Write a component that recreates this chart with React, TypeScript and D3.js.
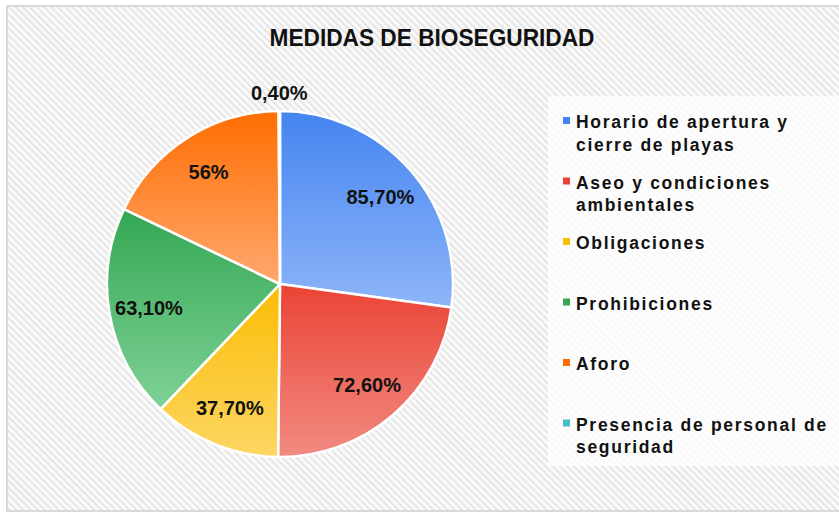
import { useEffect, useRef } from "react";
import * as d3 from "d3";

const categories = [
  "Horario de apertura y cierre de playas",
  "Aseo y condiciones ambientales",
  "Obligaciones",
  "Prohibiciones",
  "Aforo",
  "Presencia de personal de seguridad",
];
const legendLines = [
  ["Horario de apertura y", "cierre de playas"],
  ["Aseo y condiciones", "ambientales"],
  ["Obligaciones"],
  ["Prohibiciones"],
  ["Aforo"],
  ["Presencia de personal de", "seguridad"],
];
const values = [85.7, 72.6, 37.7, 63.1, 56, 0.4];
const valueLabels = ["85,70%", "72,60%", "37,70%", "63,10%", "56%", "0,40%"];
const topColors = ["#4584f0", "#ea4335", "#fbbc04", "#34a853", "#ff6d01", "#46bdc6"];
const bottomColors = ["#8db5f8", "#f28b82", "#fdd663", "#7fd197", "#ffa86e", "#8fdbe0"];

const App = () => {
  const svgRef = useRef<SVGSVGElement | null>(null);

  useEffect(() => {
    const svg = d3.select(svgRef.current);
    svg.selectAll("*").remove();

    const width = 839;
    const height = 514;
    svg.attr("width", width).attr("height", height);

    const defs = svg.append("defs");

    // fondo rayado
    const pat = defs
      .append("pattern")
      .attr("id", "hatch")
      .attr("patternUnits", "userSpaceOnUse")
      .attr("width", 5)
      .attr("height", 5)
      .attr("patternTransform", "rotate(-45)");
    pat.append("rect").attr("width", 5).attr("height", 5).attr("fill", "#fbfbfb");
    pat
      .append("rect")
      .attr("width", 2.2)
      .attr("height", 5)
      .attr("fill", "#e6e6e6");

    values.forEach((_, i) => {
      const grad = defs
        .append("linearGradient")
        .attr("id", `grad${i}`)
        .attr("x1", 0)
        .attr("y1", 0)
        .attr("x2", 0)
        .attr("y2", 1);
      grad.append("stop").attr("offset", "0%").attr("stop-color", topColors[i]);
      grad.append("stop").attr("offset", "100%").attr("stop-color", bottomColors[i]);
    });

    svg
      .append("rect")
      .attr("x", 7)
      .attr("y", 6)
      .attr("width", 840)
      .attr("height", 505)
      .attr("fill", "url(#hatch)")
      .attr("stroke", "#d9d9d9")
      .attr("stroke-width", 2);

    // Título
    svg
      .append("text")
      .attr("x", 432)
      .attr("y", 46)
      .attr("text-anchor", "middle")
      .attr("font-family", "'Liberation Sans', Arial, sans-serif")
      .attr("font-weight", "bold")
      .attr("font-size", 23.5)
      .attr("textLength", 325)
      .attr("lengthAdjust", "spacingAndGlyphs")
      .attr("fill", "#111")
      .text("MEDIDAS DE BIOSEGURIDAD");

    // Pastel
    const cx = 280;
    const cy = 284;
    const radius = 173;
    const total = d3.sum(values);

    const pie = d3
      .pie<number>()
      .sort(null)
      .value(d => d);
    const arcs = pie(values);
    const arc = d3.arc<d3.PieArcDatum<number>>().innerRadius(0).outerRadius(radius);

    const g = svg.append("g").attr("transform", `translate(${cx},${cy})`);

    g.selectAll("path")
      .data(arcs)
      .enter()
      .append("path")
      .attr("d", arc)
      .attr("fill", (_, i) => `url(#grad${i})`)
      .attr("stroke", "#fff")
      .attr("stroke-width", 2.5)
      .attr("stroke-linejoin", "round")
      .append("title")
      .text((d, i) => `${categories[i]}: ${valueLabels[i]}`);

    // Etiquetas
    g.selectAll("text.label")
      .data(arcs)
      .enter()
      .append("text")
      .attr("class", "label")
      .attr("transform", d => {
        const mid = (d.startAngle + d.endAngle) / 2;
        const small = d.value / total < 0.05;
        const r = small ? radius + 18 : radius * 0.77;
        return `translate(${Math.sin(mid) * r},${-Math.cos(mid) * r})`;
      })
      .attr("dy", "0.36em")
      .attr("text-anchor", "middle")
      .attr("font-family", "'Liberation Sans', Arial, sans-serif")
      .attr("font-weight", "bold")
      .attr("font-size", 20)
      .attr("fill", "#111")
      .text((_, i) => valueLabels[i]);

    // Leyenda
    const legend = svg.append("g");
    legend
      .append("rect")
      .attr("x", 548)
      .attr("y", 96)
      .attr("width", 291)
      .attr("height", 370)
      .attr("fill", "#fff")
      .attr("opacity", 0.75);

    const step = 60.5;
    const item = legend
      .selectAll("g.item")
      .data(legendLines)
      .enter()
      .append("g")
      .attr("class", "item")
      .attr("transform", (_, i) => `translate(563,${128 + i * step})`);

    item
      .append("rect")
      .attr("x", 0)
      .attr("y", -11)
      .attr("width", 7)
      .attr("height", 7)
      .attr("fill", (_, i) => topColors[i]);

    item
      .append("text")
      .attr("x", 13)
      .attr("font-family", "'Liberation Sans', Arial, sans-serif")
      .attr("font-weight", "bold")
      .attr("font-size", 17.5)
      .attr("letter-spacing", 1.7)
      .attr("fill", "#111")
      .selectAll("tspan")
      .data(d => d)
      .enter()
      .append("tspan")
      .attr("x", 13)
      .attr("dy", (_, j) => (j === 0 ? 0 : 22.5))
      .text(d => d);
  }, []);

  return (
    <div style={{ position: "absolute", left: 0, top: 0 }}>
      <svg ref={svgRef} style={{ display: "block" }}></svg>
    </div>
  );
};

export default App;
